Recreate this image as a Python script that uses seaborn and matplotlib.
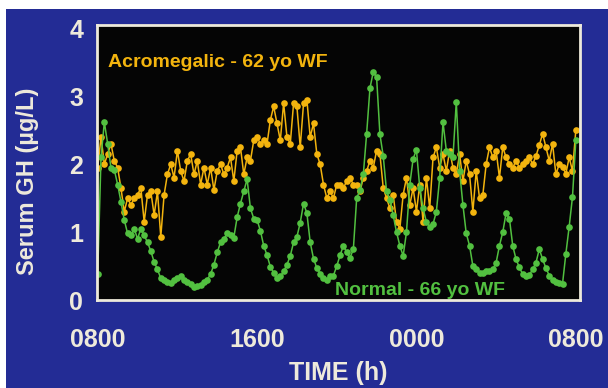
import matplotlib
matplotlib.use("Agg")
import numpy as np
import pandas as pd
import matplotlib.pyplot as plt
import seaborn as sns
from matplotlib.patches import Rectangle

# muestras cada 10 min desde las 0800 (24 h)
minutos = np.arange(0, 24 * 60 + 1, 10)

acromegalico = [
    1.95, 2.4, 2.0, 2.15, 2.3, 2.05, 1.95, 1.65, 1.3, 1.5,
    1.4, 1.5, 1.55, 1.65, 1.15, 1.55, 1.6, 1.25, 1.6, 0.93,
    1.55, 1.85, 2.0, 1.8, 2.2, 1.9, 1.75, 2.05, 2.15, 1.85,
    2.05, 1.7, 1.95, 1.7, 1.95, 1.62, 1.9, 2.0, 1.85, 1.95,
    2.1, 1.75, 2.2, 2.25, 1.85, 2.1, 2.05, 2.35, 2.4, 2.3,
    2.35, 2.3, 2.65, 2.85, 2.6, 2.35, 2.9, 2.4, 2.3, 2.9,
    2.85, 2.25, 2.9, 2.95, 2.4, 2.6, 2.15, 2.0, 1.7, 1.5,
    1.6, 1.5, 1.7, 1.7, 1.65, 1.75, 1.8, 1.7, 1.7, 1.6,
    1.8, 1.9, 2.05, 1.95, 2.2, 2.15, 1.65, 1.5, 1.35, 1.55,
    1.15, 1.05, 1.55, 1.8, 1.4, 1.65, 1.3, 1.7, 1.15, 1.8,
    1.35, 2.1, 2.25, 1.95, 2.15, 1.9, 2.2, 1.95, 1.85, 2.15,
    1.75, 2.05, 1.85, 1.3, 1.9, 1.5, 1.55, 2.0, 2.25, 2.1,
    2.2, 1.8, 2.25, 2.1, 2.0, 1.95, 2.05, 1.95, 2.0, 2.05,
    2.1, 2.0, 2.12, 2.28, 2.45, 2.25, 2.05, 2.3, 1.85, 2.0,
    1.96, 1.86, 2.1, 1.9, 2.5,
]

normal = [
    0.38, 2.1, 2.62, 2.3, 1.95, 1.92, 1.7, 1.45, 1.18, 0.98,
    0.95, 1.05, 0.9, 1.05, 0.95, 0.85, 0.72, 0.56, 0.45, 0.32,
    0.3, 0.27, 0.25, 0.3, 0.33, 0.35, 0.3, 0.27, 0.24, 0.19,
    0.2, 0.22, 0.26, 0.3, 0.38, 0.52, 0.7, 0.85, 0.9, 0.98,
    0.95, 0.92, 1.22, 1.42, 1.6, 1.78, 1.35, 1.2, 1.18, 1.02,
    0.8, 0.66, 0.49, 0.4, 0.33, 0.35, 0.42, 0.52, 0.65, 0.85,
    0.93, 1.14, 1.42, 1.28, 0.85, 0.61, 0.47, 0.39, 0.32, 0.3,
    0.35, 0.36, 0.5, 0.66, 0.8, 0.7, 0.62, 0.75, 1.5, 1.62,
    1.85, 2.45, 3.12, 3.36, 3.28, 2.44, 2.12, 1.6, 1.48, 1.25,
    1.0, 0.8, 0.65, 1.0, 1.7, 2.08, 2.21, 1.65, 1.35, 1.15,
    1.08, 1.12, 1.3, 1.8, 2.62, 2.2, 2.15, 2.1, 2.92, 1.9,
    1.4, 0.98, 0.8, 0.5, 0.45, 0.4, 0.4, 0.42, 0.42, 0.45,
    0.55, 0.8, 1.0, 1.28, 1.2, 0.8, 0.6, 0.48, 0.38, 0.36,
    0.37, 0.45, 0.55, 0.75, 0.6, 0.47, 0.36, 0.3, 0.27, 0.25,
    0.24, 0.68, 1.08, 1.52, 2.35,
]

ticks_h = [0, 8, 16, 24]
ticks_txt = ["0800", "1600", "0000", "0800"]
yticks = [0, 1, 2, 3, 4]

AZUL = "#232c95"
AMARILLO = "#f3b40e"
VERDE = "#52c040"
CREMA = "#eeeadb"

sns.set_theme(style="dark", rc={"axes.facecolor": "#050505", "figure.facecolor": "white"})
plt.rcParams['font.family'] = ['Liberation Sans', 'DejaVu Sans']

fig = plt.figure(figsize=(6.08, 3.88), dpi=100)
# fondo azul de la diapositiva (borde blanco arriba e izquierda)
fig.patches.append(Rectangle((6 / 608, 0), 1, 1 - 9 / 388, transform=fig.transFigure,
                             facecolor=AZUL, edgecolor="none", zorder=-1))

ax = fig.add_axes([97 / 608, 1 - 300 / 388, 483 / 608, 275 / 388])
df = pd.DataFrame({"t": minutos / 60, "acro": acromegalico, "normal": normal})

sns.lineplot(data=df, x="t", y="acro", ax=ax, color=AMARILLO, marker="o",
             markersize=4.8, markeredgewidth=0, linewidth=1.1)
sns.lineplot(data=df, x="t", y="normal", ax=ax, color=VERDE, marker="o",
             markersize=4.8, markeredgewidth=0, linewidth=1.1)

ax.set_xlim(-0.035, 24.21)
ax.set_ylim(0.05, 4.05)
ax.set_xticks(ticks_h)
ax.set_xticklabels(ticks_txt)
ax.set_yticks(yticks)
ax.grid(False)
ax.tick_params(length=0, colors=CREMA, labelsize=18)
ax.tick_params(axis="x", pad=20)
ax.tick_params(axis="y", pad=10)
for lbl in ax.get_xticklabels() + ax.get_yticklabels():
    lbl.set_fontweight("bold")

for s in ax.spines.values():
    s.set_color(CREMA)
    s.set_linewidth(2)

ax.set_xlabel("TIME (h)", fontsize=18, fontweight="bold", color=CREMA)
ax.set_ylabel("Serum GH (µg/L)", fontsize=17, fontweight="bold", color=CREMA)
ax.xaxis.set_label_coords(0.5, -0.265)
ax.xaxis.label.set_va("center")
ax.yaxis.set_label_coords(-0.143, 0.43)
ax.yaxis.label.set_va("center")

ax.text(0.023, 0.865, "Acromegalic - 62 yo WF", transform=ax.transAxes, color=AMARILLO,
        fontsize=14, fontweight="bold", va="center", ha="left")
ax.text(0.493, 0.035, "Normal - 66 yo WF", transform=ax.transAxes, color=VERDE,
        fontsize=14, fontweight="bold", va="center", ha="left")

fig.savefig("out.png", dpi=100)
